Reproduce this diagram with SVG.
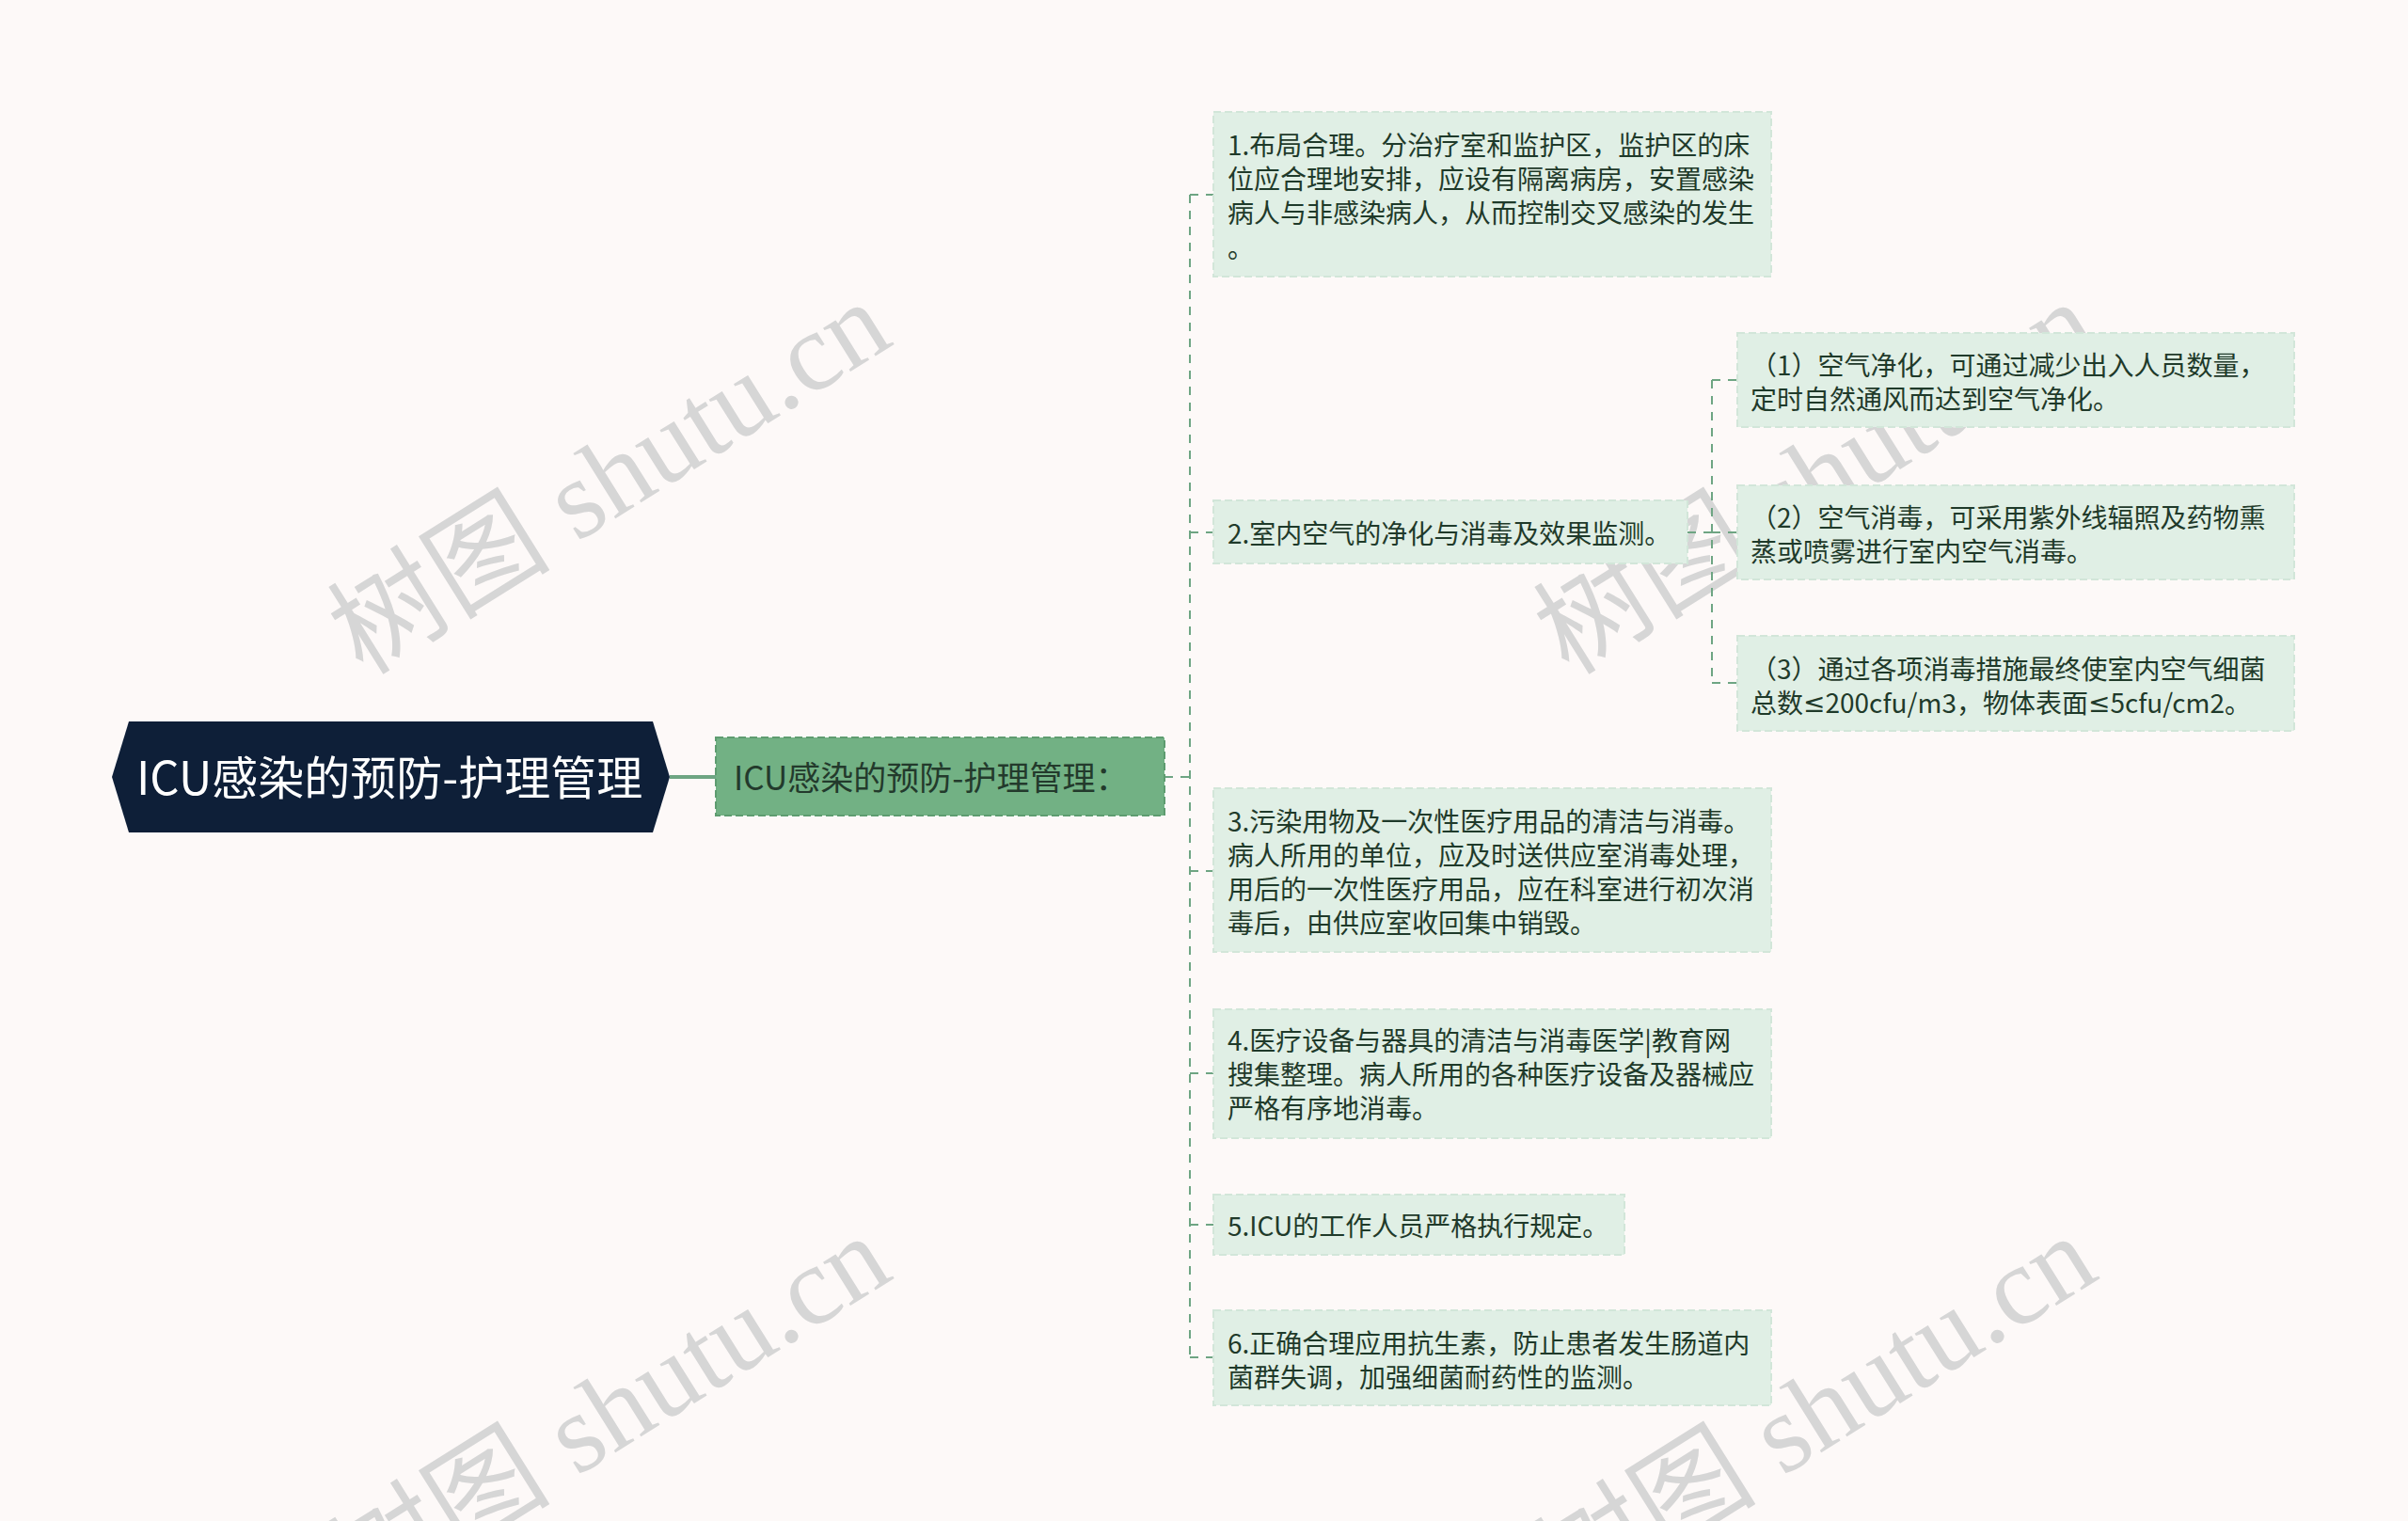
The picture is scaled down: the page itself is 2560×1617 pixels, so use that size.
<svg xmlns="http://www.w3.org/2000/svg" width="2560" height="1617" viewBox="0 0 2560 1617">
<style>
.bg{fill:#fdf9f8}
.wm{font-family:"Liberation Serif","Noto Sans CJK SC",serif;font-size:119px;fill:#d6d6d6;text-anchor:middle}
.conn{fill:none;stroke:#6ea583;stroke-width:2;stroke-dasharray:9,8}
.box{fill:#e0efe5;stroke:#d2e6d9;stroke-width:2;stroke-dasharray:8,4}
.t{font-family:"Noto Sans CJK SC","Noto Sans",sans-serif;font-size:28px;fill:#1f3a2a;dominant-baseline:central}
.ns{font-family:"Noto Sans","DejaVu Sans",sans-serif}
.l1{fill:#72b184;stroke:#5e9c70;stroke-width:2;stroke-dasharray:8,4}
.l1t{font-family:"Noto Sans CJK SC","Noto Sans",sans-serif;font-size:35px;fill:#233a2c;dominant-baseline:central}
.root{fill:#0e1f38}
.rt{font-family:"Noto Sans CJK SC","Noto Sans",sans-serif;font-size:49px;fill:#ffffff;dominant-baseline:central}
</style>
<rect class="bg" x="0" y="0" width="2560" height="1617"/>
<g id="watermarks">
<text class="wm" transform="translate(669,542) rotate(-32)">树图 shutu.cn</text>
<text class="wm" transform="translate(1951,542) rotate(-32)">树图 shutu.cn</text>
<text class="wm" transform="translate(669,1535) rotate(-32)">树图 shutu.cn</text>
<text class="wm" transform="translate(1951,1535) rotate(-32)">树图 shutu.cn</text>
</g>
<g id="connectors">
<line x1="712" y1="826" x2="761" y2="826" stroke="#6ea583" stroke-width="4"/>
<path class="conn" d="M1238,826 H1265 M1265,207 V1443 M1265,207 H1290 M1265,566 H1290 M1265,926 H1290 M1265,1141 H1290 M1265,1302 H1290 M1265,1443 H1290"/>
<path class="conn" d="M1794,566 H1820 M1820,404 V726 M1820,404 H1847 M1820,566 H1847 M1820,726 H1847"/>
</g>
<g id="root">
<polygon class="root" points="119,826 137,767 694,767 712,826 694,885 137,885"/>
<text class="rt" x="145" y="823">ICU感染的预防-护理管理</text>
</g>
<g id="level1">
<rect class="l1" x="761" y="784" width="477" height="83"/>
<text class="l1t" x="780" y="824">ICU感染的预防-护理管理：</text>
</g>
<g id="n1">
<rect class="box" x="1290" y="119" width="593" height="175"/>
<text class="t" x="1305" y="153">1.布局合理。分治疗室和监护区，监护区的床</text>
<text class="t" x="1305" y="189">位应合理地安排，应设有隔离病房，安置感染</text>
<text class="t" x="1305" y="225">病人与非感染病人，从而控制交叉感染的发生</text>
<text class="t" x="1305" y="262">。</text>
</g>
<g id="n2">
<rect class="box" x="1290" y="532" width="504" height="67"/>
<text class="t" x="1305" y="566">2.室内空气的净化与消毒及效果监测。</text>
</g>
<g id="n2a">
<rect class="box" x="1847" y="354" width="592" height="100"/>
<text class="t" x="1861" y="387">（1）空气净化，可通过减少出入人员数量，</text>
<text class="t" x="1861" y="423">定时自然通风而达到空气净化。</text>
</g>
<g id="n2b">
<rect class="box" x="1847" y="516" width="592" height="100"/>
<text class="t" x="1861" y="549">（2）空气消毒，可采用紫外线辐照及药物熏</text>
<text class="t" x="1861" y="585">蒸或喷雾进行室内空气消毒。</text>
</g>
<g id="n2c">
<rect class="box" x="1847" y="676" width="592" height="101"/>
<text class="t" x="1861" y="710">（3）通过各项消毒措施最终使室内空气细菌</text>
<text class="t" x="1861" y="746">总数<tspan class="ns">≤</tspan>200cfu/m3，物体表面<tspan class="ns">≤</tspan>5cfu/cm2。</text>
</g>
<g id="n3">
<rect class="box" x="1290" y="838" width="593" height="174"/>
<text class="t" x="1305" y="872">3.污染用物及一次性医疗用品的清洁与消毒。</text>
<text class="t" x="1305" y="908">病人所用的单位，应及时送供应室消毒处理，</text>
<text class="t" x="1305" y="944">用后的一次性医疗用品，应在科室进行初次消</text>
<text class="t" x="1305" y="980">毒后，由供应室收回集中销毁。</text>
</g>
<g id="n4">
<rect class="box" x="1290" y="1073" width="593" height="137"/>
<text class="t" x="1305" y="1105">4.医疗设备与器具的清洁与消毒医学|教育网</text>
<text class="t" x="1305" y="1141">搜集整理。病人所用的各种医疗设备及器械应</text>
<text class="t" x="1305" y="1177">严格有序地消毒。</text>
</g>
<g id="n5">
<rect class="box" x="1290" y="1270" width="437" height="64"/>
<text class="t" x="1305" y="1302">5.ICU的工作人员严格执行规定。</text>
</g>
<g id="n6">
<rect class="box" x="1290" y="1393" width="593" height="101"/>
<text class="t" x="1305" y="1427">6.正确合理应用抗生素，防止患者发生肠道内</text>
<text class="t" x="1305" y="1463">菌群失调，加强细菌耐药性的监测。</text>
</g>
</svg>
